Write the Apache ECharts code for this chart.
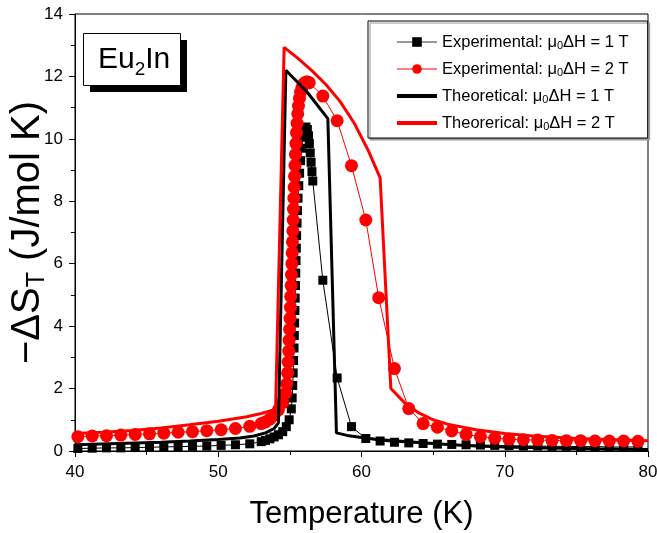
<!DOCTYPE html>
<html>
<head>
<meta charset="utf-8">
<script src="https://cdn.jsdelivr.net/npm/echarts@6/dist/echarts.min.js"></script>
<style>html,body{margin:0;padding:0;background:#fff}#c{width:657px;height:533px}</style>
</head>
<body>
<div id="c"></div>
<script>
// Experimental, mu0ΔH = 1 T  [T (K), -ΔS_T]
var exp1T = [
  [40.2,0.08],[41.2,0.09],[42.2,0.1],[43.2,0.1],[44.2,0.11],[45.2,0.12],[46.2,0.13],[47.2,0.14],[48.2,0.15],[49.2,0.16],[50.2,0.18],[51.2,0.2],[52.2,0.23],
  [53.0,0.3],[53.3,0.34],[53.6,0.39],[53.9,0.45],[54.2,0.52],[54.5,0.62],[54.75,0.78],[54.95,1.0],
  [55.1,1.35],[55.16,1.7],[55.2,2.1],[55.23,2.5],[55.26,2.9],[55.29,3.3],[55.31,3.7],[55.33,4.1],[55.35,4.5],[55.37,4.9],[55.39,5.3],[55.41,5.7],[55.43,6.1],[55.45,6.5],[55.47,6.9],[55.5,7.3],[55.53,7.7],[55.57,8.1],[55.62,8.5],[55.68,8.9],[55.75,9.3],[55.83,9.7],[55.92,10.05],[56.02,10.3],[56.12,10.38],[56.22,10.3],[56.3,10.1],[56.36,9.85],[56.42,9.55],[56.48,9.25],[56.54,8.95],[56.6,8.65],
  [57.3,5.47],[58.3,2.34],[59.3,0.78],[60.3,0.4],[61.3,0.32],[62.3,0.28],[63.3,0.26],[64.3,0.24],[65.3,0.22],[66.3,0.21],[67.3,0.2],[68.3,0.19],[69.3,0.18],[70.3,0.17],[71.3,0.16],[72.3,0.16],[73.3,0.15],[74.3,0.15],[75.3,0.14],[76.3,0.14],[77.3,0.13],[78.3,0.13],[79.3,0.13]
];
// Experimental, mu0ΔH = 2 T
var exp2T = [
  [40.2,0.46],[41.2,0.48],[42.2,0.49],[43.2,0.51],[44.2,0.53],[45.2,0.55],[46.2,0.57],[47.2,0.6],[48.2,0.62],[49.2,0.65],[50.2,0.68],[51.2,0.72],[52.2,0.79],
  [53.0,0.88],[53.3,0.93],[53.6,1.02],[53.9,1.15],[54.2,1.32],[54.5,1.55],
  [54.7,1.85],[54.78,2.15],[54.84,2.5],[54.88,2.85],[54.92,3.2],[54.95,3.55],[54.98,3.9],[55.01,4.25],[55.04,4.6],[55.06,4.95],[55.09,5.3],[55.11,5.65],[55.14,6.0],[55.16,6.35],[55.18,6.7],[55.21,7.05],[55.23,7.4],[55.25,7.75],[55.28,8.1],[55.3,8.45],[55.33,8.8],[55.36,9.15],[55.39,9.5],[55.42,9.85],[55.46,10.2],[55.5,10.5],[55.55,10.8],[55.6,11.05],[55.67,11.3],[55.75,11.5],[55.85,11.65],[55.95,11.75],[56.05,11.8],[56.15,11.82],[56.25,11.82],[56.35,11.8],
  [57.3,11.37],[58.3,10.58],[59.3,9.14],[60.3,7.4],[61.2,4.91],[62.3,2.64],[63.3,1.36],[64.3,0.88],[65.3,0.76],[66.3,0.64],[67.3,0.53],[68.3,0.46],[69.3,0.41],[70.3,0.38],[71.3,0.36],[72.3,0.35],[73.3,0.34],[74.3,0.33],[75.3,0.33],[76.3,0.32],[77.3,0.32],[78.3,0.32],[79.3,0.31]
];
// Theoretical, mu0ΔH = 1 T
var theo1T = [
  [40,0.2],[43,0.24],[46,0.28],[48,0.32],[50,0.37],[51.5,0.42],[52.5,0.48],[53.3,0.58],[53.9,0.72],[54.2,0.9],
  [54.72,12.2],[56.2,11.5],[57.65,10.65],
  [58.25,0.58],[59,0.5],[60,0.43],[61,0.38],[62,0.34],[64,0.27],[66,0.21],[68,0.16],[70,0.13],[73,0.1],[76,0.07],[80,0.05]
];
// Theoretical, mu0ΔH = 2 T
var theo2T = [
  [40,0.56],[42,0.6],[44,0.66],[46,0.74],[48,0.84],[50,0.95],[52,1.1],[53,1.2],[54,1.33],
  [54.6,12.93],[55.5,12.6],[56.5,12.2],[57.5,11.75],[58.5,11.2],[59.5,10.5],[60.5,9.6],[61.3,8.75],
  [62.05,2.0],[63,1.55],[64,1.22],[65,1.0],[66,0.86],[68,0.68],[70,0.56],[72,0.48],[75,0.4],[80,0.33]
];
var seriesNames = ['Experimental: μ0ΔH = 1 T','Experimental: μ0ΔH = 2 T','Theoretical: μ0ΔH = 1 T','Theorerical: μ0ΔH = 2 T'];
var xTicks = [40,50,60,70,80];
var yTicks = [0,2,4,6,8,10,12,14];

var FF = '"Liberation Sans", Arial, sans-serif';
var chart = echarts.init(document.getElementById('c'), null, {renderer:'canvas'});
var noSym = {color:'rgba(0,0,0,0)',borderColor:'rgba(0,0,0,0)',borderWidth:0};
chart.setOption({
  animation:false,
  backgroundColor:'#fff',
  grid:{left:75,right:9,top:14,bottom:82,show:true,borderColor:'#000',borderWidth:1,outerBoundsMode:'none',containLabel:false},
  xAxis:{
    type:'value',min:xTicks[0],max:xTicks[xTicks.length-1],interval:10,
    name:'Temperature (K)',nameLocation:'middle',nameGap:48,
    nameTextStyle:{fontFamily:FF,fontSize:31,color:'#000'},
    axisLine:{lineStyle:{color:'#000',width:1}},
    axisTick:{show:true,inside:false,length:6,lineStyle:{color:'#000'}},
    minorTick:{show:true,splitNumber:2,length:4,lineStyle:{color:'#000'}},
    axisLabel:{fontFamily:FF,fontSize:17,color:'#000',margin:13},
    splitLine:{show:false}
  },
  yAxis:{
    type:'value',min:yTicks[0],max:yTicks[yTicks.length-1],interval:2,
    name:'−ΔS{s|T} (J/mol K)',nameLocation:'middle',nameGap:25,nameMoveOverlap:false,
    nameTextStyle:{fontFamily:FF,fontSize:40,color:'#000',lineHeight:44,
      rich:{s:{fontFamily:FF,fontSize:25,color:'#000',lineHeight:44,verticalAlign:'bottom'}}},
    axisLine:{lineStyle:{color:'#000',width:1}},
    axisTick:{show:true,inside:false,length:6,lineStyle:{color:'#000'}},
    minorTick:{show:true,splitNumber:2,length:4,lineStyle:{color:'#000'}},
    axisLabel:{fontFamily:FF,fontSize:17,color:'#000',margin:12},
    splitLine:{show:false}
  },
  legend:{
    orient:'vertical',left:368,top:21,
    padding:[12,19,6,27],itemGap:9,itemWidth:40,itemHeight:12,
    borderColor:'#000',borderWidth:1,backgroundColor:'#fff',
    shadowColor:'#999',shadowOffsetX:2,shadowOffsetY:2,shadowBlur:0,
    data:[
      {name:seriesNames[0],lineStyle:{width:1.2,color:'#333'}},
      {name:seriesNames[1],lineStyle:{width:1.2}},
      {name:seriesNames[2],itemStyle:noSym,lineStyle:{width:4}},
      {name:seriesNames[3],itemStyle:noSym,lineStyle:{width:4}}
    ],
    formatter:function(n){return n.replace('μ0','μ{s|0}');},
    textStyle:{fontFamily:FF,fontSize:16.5,color:'#000',lineHeight:18,
      rich:{s:{fontFamily:FF,fontSize:11,color:'#000',lineHeight:18,verticalAlign:'bottom'}}}
  },
  graphic:[
    {type:'rect',left:90,top:40,shape:{width:97,height:52},style:{fill:'#000'},z:100},
    {type:'rect',left:83,top:33,shape:{width:97,height:52},style:{fill:'#fff',stroke:'#000',lineWidth:1},z:101},
    {type:'text',left:98,top:41,z:102,style:{text:'Eu{s|2}In',font:'30px '+FF,fill:'#000',
      rich:{s:{fontFamily:FF,fontSize:19,fill:'#000',lineHeight:38,verticalAlign:'bottom'}},lineHeight:38}}
  ],
  series:[
    {name:seriesNames[0],type:'line',data:exp1T,symbol:'rect',symbolSize:9,showSymbol:true,
     itemStyle:{color:'#000'},lineStyle:{color:'#000',width:1},z:2},
    {name:seriesNames[1],type:'line',data:exp2T,symbol:'circle',symbolSize:13,showSymbol:true,
     itemStyle:{color:'#ff0000'},lineStyle:{color:'#ff0000',width:1},z:3},
    {name:seriesNames[2],type:'line',data:theo1T,symbol:'none',
     itemStyle:{color:'#000'},lineStyle:{color:'#000',width:3},z:4},
    {name:seriesNames[3],type:'line',data:theo2T,symbol:'none',
     itemStyle:{color:'#ff0000'},lineStyle:{color:'#ff0000',width:3},z:5}
  ]
});
</script>
</body>
</html>
